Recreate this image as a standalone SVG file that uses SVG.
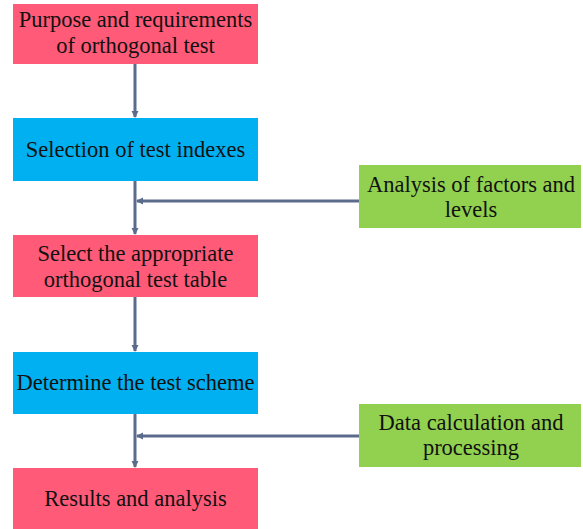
<svg xmlns="http://www.w3.org/2000/svg" width="583" height="529" viewBox="0 0 583 529">
<style>
.pink{fill:#FF5A78}
.blue{fill:#00B0F0}
.green{fill:#92D050}
.t{font-family:"Liberation Serif","Times New Roman",serif;font-size:22.5px;fill:#111;text-anchor:middle}
.ln{stroke:#5B6B8C;stroke-width:3;fill:none}
</style>
<defs>
<marker id="ah" markerWidth="8" markerHeight="8" refX="6" refY="4" orient="auto" markerUnits="userSpaceOnUse">
<path d="M0,0.5 L7,4 L0,7.5 Z" fill="#5B6B8C"/>
</marker>
</defs>
<rect width="583" height="529" fill="#fff"/>
<g id="connectors">
<line class="ln" x1="135" y1="64" x2="135" y2="117" marker-end="url(#ah)"/>
<line class="ln" x1="135" y1="181" x2="135" y2="234" marker-end="url(#ah)"/>
<line class="ln" x1="359" y1="201" x2="137" y2="201" marker-end="url(#ah)"/>
<line class="ln" x1="135" y1="297" x2="135" y2="351" marker-end="url(#ah)"/>
<line class="ln" x1="135" y1="414" x2="135" y2="467" marker-end="url(#ah)"/>
<line class="ln" x1="359" y1="436" x2="137" y2="436" marker-end="url(#ah)"/>
</g>
<g id="n1"><rect class="pink" x="13" y="4" width="245" height="60"/><text class="t" x="135.5" y="27">Purpose and requirements</text><text class="t" x="135.5" y="53">of orthogonal test</text></g>
<g id="n2"><rect class="blue" x="13" y="118" width="245" height="63"/><text class="t" x="135.5" y="157">Selection of test indexes</text></g>
<g id="n3"><rect class="pink" x="13" y="235" width="245" height="62"/><text class="t" x="135.5" y="261">Select the appropriate</text><text class="t" x="135.5" y="287">orthogonal test table</text></g>
<g id="n4"><rect class="blue" x="13" y="352" width="245" height="62"/><text class="t" x="135.5" y="390">Determine the test scheme</text></g>
<g id="n5"><rect class="pink" x="13" y="468" width="245" height="61"/><text class="t" x="135.5" y="506">Results and analysis</text></g>
<g id="g1"><rect class="green" x="359" y="165" width="222" height="63"/><text class="t" x="471" y="192">Analysis of factors and</text><text class="t" x="471" y="217">levels</text></g>
<g id="g2"><rect class="green" x="359" y="404" width="222" height="63"/><text class="t" x="471" y="430">Data calculation and</text><text class="t" x="471" y="455">processing</text></g>
</svg>
